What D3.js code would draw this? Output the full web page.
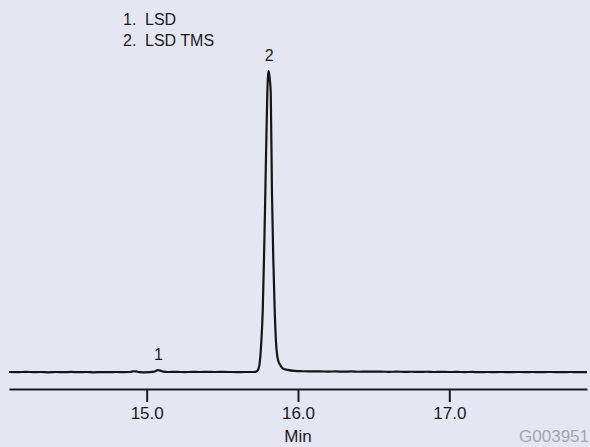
<!DOCTYPE html>
<html>
<head>
<meta charset="utf-8">
<script src="https://cdn.jsdelivr.net/npm/d3@7"></script>
<style>
  html, body { margin: 0; padding: 0; background: #e4e7f1; }
  svg { display: block; }
  text { font-family: "Liberation Sans", Arial, Helvetica, sans-serif; fill: #1a1a1a; }
</style>
</head>
<body>
<svg id="chart" width="590" height="447"></svg>
<script>
// Retention time (min) and detector response (relative units, main peak = 100)
const times = [
  14.09, 14.15, 14.20, 14.25, 14.30, 14.35, 14.40, 14.45, 14.50, 14.55,
  14.60, 14.65, 14.70, 14.75, 14.80, 14.85, 14.89, 14.915, 14.93, 14.95,
  14.98, 15.02, 15.05, 15.065, 15.075, 15.09, 15.11, 15.14, 15.20, 15.25,
  15.30, 15.35, 15.40, 15.45, 15.50, 15.55, 15.60, 15.65, 15.70, 15.72,
  15.736, 15.749, 15.757, 15.767, 15.775, 15.784, 15.797, 15.802, 15.806, 15.811,
  15.820, 15.828, 15.837, 15.846, 15.855, 15.868, 15.885, 15.901, 15.93, 15.978,
  16.03, 16.10, 16.15, 16.20, 16.25, 16.30, 16.35, 16.40, 16.45, 16.50,
  16.55, 16.60, 16.65, 16.70, 16.75, 16.80, 16.85, 16.90, 16.95, 17.00,
  17.05, 17.10, 17.15, 17.20, 17.25, 17.30, 17.35, 17.40, 17.45, 17.50,
  17.55, 17.60, 17.65, 17.70, 17.75, 17.80, 17.85, 17.91
];
const signal = [
  0.10, 0.05, 0.15, 0.05, 0.10, 0.00, 0.10, 0.05, 0.12, 0.05,
  0.10, 0.00, 0.08, 0.05, 0.10, 0.05, 0.10, 0.35, 0.30, 0.05,
  0.00, 0.05, 0.20, 0.60, 0.75, 0.55, 0.20, 0.10, 0.15, 0.05,
  0.15, 0.10, 0.15, 0.10, 0.12, 0.10, 0.08, 0.10, 0.10, 0.15,
  0.80, 4.1, 9.7, 20.6, 37.2, 59.3, 92.4, 98.5, 100, 98.5,
  92.4, 59.3, 37.2, 20.6, 9.7, 4.1, 2.2, 1.2, 0.80, 0.45,
  0.35, 0.28, 0.30, 0.22, 0.30, 0.20, 0.28, 0.18, 0.25, 0.20,
  0.22, 0.15, 0.20, 0.15, 0.18, 0.12, 0.18, 0.10, 0.15, 0.10,
  0.12, 0.08, 0.12, 0.05, 0.10, 0.08, 0.10, 0.05, 0.10, 0.08,
  0.10, 0.05, 0.10, 0.08, 0.05, 0.10, 0.05, 0.08
];

// Tick values on the time axis
const tickValues = [15.0, 16.0, 17.0];

// Peak annotations
const peakLabels = ["1", "2"];
const peakTimes = [15.075, 15.806];
const peakValues = [0.75, 100];

// Legend lines
const legendNums = ["1.", "2."];
const legendNames = ["LSD", "LSD TMS"];

const svg = d3.select("#chart");

const x = d3.scaleLinear().domain([14.09, 17.91]).range([9, 587]);
const y = d3.scaleLinear().domain([0, 100]).range([372.3, 71]);

// Chromatogram trace
const points = times.map((t, i) => [t, signal[i]]);
svg.append("path")
  .datum(points)
  .attr("fill", "none")
  .attr("stroke", "#161616")
  .attr("stroke-width", 2.2)
  .attr("stroke-linejoin", "round")
  .attr("d", d3.line()
    .x(d => x(d[0]))
    .y(d => y(d[1]))
    .curve(d3.curveMonotoneX));

// Time axis
const axis = d3.axisBottom(x)
  .tickValues(tickValues)
  .tickFormat(d3.format(".1f"))
  .tickSize(13)
  .tickSizeOuter(0)
  .tickPadding(5);

const gAxis = svg.append("g")
  .attr("transform", "translate(0,389)")
  .call(axis);
gAxis.select(".domain").attr("stroke", "#1a1a1a").attr("stroke-width", 2);
gAxis.selectAll(".tick line").attr("stroke", "#1a1a1a").attr("stroke-width", 2);
gAxis.selectAll(".tick text")
  .attr("font-size", 17)
  .attr("font-family", "'Liberation Sans', Arial, sans-serif")
  .attr("fill", "#1a1a1a");

// Axis title
svg.append("text")
  .attr("x", x(16.0))
  .attr("y", 442)
  .attr("text-anchor", "middle")
  .attr("font-size", 17)
  .text("Min");

// Figure code
svg.append("text")
  .attr("x", 589)
  .attr("y", 442)
  .attr("text-anchor", "end")
  .attr("font-size", 17)
  .style("fill", "#a3a6ae")
  .text("G003951");

// Peak numbers
svg.selectAll(".peak-label")
  .data(peakLabels)
  .enter().append("text")
  .attr("class", "peak-label")
  .attr("x", (d, i) => x(peakTimes[i]) + 0.5)
  .attr("y", (d, i) => y(peakValues[i]) - 10)
  .attr("text-anchor", "middle")
  .attr("font-size", 16)
  .text(d => d);

// Legend
const legend = svg.append("g");
legendNums.forEach((n, i) => {
  legend.append("text")
    .attr("x", 123)
    .attr("y", 25 + i * 20.5)
    .attr("font-size", 16)
    .text(n);
  legend.append("text")
    .attr("x", 145)
    .attr("y", 25 + i * 20.5)
    .attr("font-size", 16)
    .text(legendNames[i]);
});
</script>
</body>
</html>
